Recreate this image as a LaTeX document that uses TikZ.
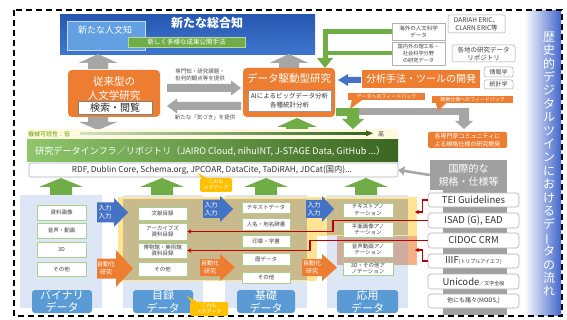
\documentclass[tikz,border=0pt]{standalone}
\usepackage{fontspec}
\usepackage{graphicx}
\setmainfont{Noto Sans CJK JP}
\usetikzlibrary{arrows.meta}
\definecolor{oranC}{RGB}{237,125,49}
\definecolor{topBa}{RGB}{40,88,178}
\definecolor{topBb}{RGB}{62,118,206}
\definecolor{hbB}{RGB}{98,160,226}
\definecolor{grnC}{RGB}{112,173,71}
\definecolor{dkG}{RGB}{56,100,30}
\definecolor{infL}{RGB}{142,198,108}
\definecolor{infD}{RGB}{58,102,32}
\definecolor{grayC}{RGB}{166,166,166}
\definecolor{gryB}{RGB}{160,160,160}
\definecolor{lblB}{RGB}{91,155,213}
\definecolor{colbg}{RGB}{220,230,244}
\definecolor{khaki}{RGB}{200,186,140}
\definecolor{yelS}{RGB}{255,249,222}
\definecolor{yelT}{RGB}{255,217,102}
\definecolor{pinkR}{RGB}{206,172,160}
\definecolor{peachC}{RGB}{244,177,131}
\definecolor{goldC}{RGB}{255,192,0}
\definecolor{redC}{RGB}{192,0,0}
\definecolor{arrB}{RGB}{68,114,196}
\definecolor{banB}{RGB}{66,104,204}
\definecolor{itemG}{RGB}{169,209,142}
\newcommand\fsz[2]{\fontsize{#1}{#2}\selectfont}
\newcommand\mybox[7]{\node[#6, minimum width={(#4)-(#2)}, minimum height={(#5)-(#3)}] (#1) at ({((#2)+(#4))/2},{((#3)+(#5))/2}) {#7};}
\newcommand\harrow[7]{\fill[#7] (#1,{#4-#5/2}) -- (#2,{#4-#5/2}) -- (#2,{#4-#6/2}) -- (#3,#4) -- (#2,{#4+#6/2}) -- (#2,{#4+#5/2}) -- (#1,{#4+#5/2}) -- cycle;}
\newcommand\varrow[7]{\fill[#7] ({#4-#5/2},#1) -- ({#4-#5/2},#2) -- ({#4-#6/2},#2) -- (#4,#3) -- ({#4+#6/2},#2) -- ({#4+#5/2},#2) -- ({#4+#5/2},#1) -- cycle;}
\begin{document}
\begin{tikzpicture}[x=1pt,y=-1pt,
  every node/.style={inner sep=0pt, align=center},
  item/.style={draw=itemG, fill=white, line width=0.6pt, font=\fsz{5.5}{6.6}, text=black!75},
  std/.style={draw=black!30, fill=white, rounded corners=3pt, line width=0.6pt, text=black!80},
  lbl/.style={fill=lblB, rounded corners=3pt, text=white, font=\fsz{11}{12.5}},
  orbox/.style={fill=oranC, rounded corners=4pt, text=white},
  smallbox/.style={draw=black!35, fill=white, rounded corners=2pt, line width=0.5pt, font=\fsz{6}{7.2}, text=black!75},
  redarr/.style={draw=redC, line width=1.1pt, -{Stealth[length=4pt,width=4.5pt]}},
  meta/.style={fill=goldC, rounded corners=1.5pt, text=white, font=\fsz{5}{6}},
]
\useasboundingbox (0,0) rectangle (567,320);
\fill[white] (0,0) rectangle (567,320);
% banner
\shade[left color=white, middle color=banB!55!white, right color=banB] (524,11) rectangle (561,315);
\node[text=white, font=\fsz{12}{13.4}] (ban) at (549,164) {歴\\史\\的\\デ\\ジ\\タ\\ル\\ツ\\イ\\ン\\に\\お\\け\\る\\デ\\\rotatebox[origin=c]{90}{ー}\\タ\\の\\流\\れ};
\draw[line width=1.5pt, dash pattern=on 6pt off 4pt] (14,10) rectangle (562,316);
% top blue
\mybox{tb}{60}{15}{315}{55}{top color=topBa, bottom color=topBb}{}
\node[text=white, font=\fsz{12}{14}\bfseries] (tbt) at (207,23) {新たな総合知};
\mybox{hum}{67}{21}{145}{50}{fill=hbB, draw=white!60!hbB, line width=0.5pt}{}
\node[text=white, font=\fsz{9}{10}] (humt) at (105,30) {新たな人文知};
\mybox{pub}{128}{37}{245}{47}{fill=grnC, draw=grnC!50!white, line width=0.6pt, text=white, font=\fsz{6.5}{7}}{新しく多様な成果公開手法}
\varrow{69}{63}{54}{98}{20}{39}{grayC}
\varrow{68}{63}{54}{289}{20}{39}{grayC}
% traditional
\mybox{trad}{68}{70}{160}{117}{orbox}{}
\node[text=white, font=\fsz{10.5}{14}] (tradt) at (114,89) {従来型の\\人文学研究};
\mybox{kensaku}{78}{101}{152}{114}{fill=white, draw=black!50, line width=0.4pt, font=\fsz{10}{11}, text=black!85}{検索・閲覧}
\harrow{167}{231}{241}{88}{8}{15}{grayC}
\harrow{241}{177}{167}{106}{8}{15}{grayC}
\node[font=\fsz{5.5}{7.5}, text=black!70] (lab1) at (200,75) {専門知・研究課題・\\批判的観点等を提供};
\node[font=\fsz{5.5}{7}, text=black!70] (lab2) at (205,117) {新たな「気づき」を提供};
% data driven
\mybox{ddr}{243}{68}{335}{117}{orbox}{}
\node[text=white, font=\fsz{10.5}{12}] (ddrt) at (289,78) {データ駆動型研究};
\mybox{ai}{248}{90}{331}{111}{fill=white, draw=black!40, line width=0.5pt, font=\fsz{6.5}{8.5}, text=black!80}{AIによるビッグデータ分析\\各種統計分析}
\varrow{140}{127}{118}{297}{22}{40}{grnC}
\varrow{117}{122}{130}{98}{20}{38}{grayC}
% readability strip
\fill[yelS] (27,129) rectangle (398,139);
\node[anchor=west, font=\fsz{6}{6}, text=black!60!green!60!yellow] (low) at (28,134) {機械可読性：低};
\shade[left color=grnC!35!white, right color=dkG] (80,132.2) rectangle (367,134.4);
\fill[dkG] (366,130.3) -- (373,133.3) -- (366,136.3) -- cycle;
\node[font=\fsz{6}{6}, text=black!75] (high) at (381,134) {高};
% infra
\mybox{inf}{27}{140}{398}{162}{left color=infL, right color=infD}{}
\node[anchor=west, text=white] (inft) at (35,151) {\resizebox{350pt}{!}{研究データインフラ／リポジトリ（JAIRO Cloud, nihuINT, J-STAGE Data, GitHub ...）}};
\mybox{rdf}{29}{163}{398}{177}{fill=white, draw=black!30, rounded corners=2pt, line width=0.6pt}{}
\node[text=black!80] (rdft) at (212,170) {\resizebox{280pt}{!}{RDF, Dublin Core, Schema.org, JPCOAR, DataCite, TaDiRAH, JDCat(国内)...}};
% international
\mybox{intl}{430}{160}{507}{190}{fill=gryB, text=white, font=\fsz{10}{12.5}}{国際的な\\規格・仕様等}
\draw[grayC, line width=2.5pt, -{Triangle[length=6pt,width=9pt]}] (intl.west) -- (rdf.east);
\mybox{comm}{428}{132}{507}{148}{orbox, rounded corners=2pt, font=\fsz{6}{7.5}}{各専門家コミュニティに\\よる規格仕様の研究開発}
% feedback paths
\fill[grayC] (355,108) rectangle (469,115);
\varrow{108}{121}{129}{464}{10}{18}{grayC}
\fill[grnC] (336,108) rectangle (359,116);
\varrow{108}{119}{129}{353}{12}{22}{grnC}
\mybox{cb1}{348}{93}{425}{100}{fill=oranC, text=white, font=\fsz{5}{6}}{データへのフィードバック}
\fill[oranC] ([xshift=4pt]cb1.south west) -- (350,109) -- ([xshift=14pt]cb1.south west) -- cycle;
\mybox{cb2}{432}{96}{513}{103}{fill=oranC, text=white, font=\fsz{5}{6}}{規格仕様へのフィードバック}
\fill[oranC] ([xshift=4pt]cb2.south west) -- (438,111) -- ([xshift=14pt]cb2.south west) -- cycle;
% tools
\mybox{tool}{362}{70}{480}{88}{fill=oranC, text=white, font=\fsz{10}{12}}{分析手法・ツールの開発}
\harrow{361}{348}{338}{80}{6}{12}{arrB}
\mybox{info}{484}{67}{513}{77}{smallbox}{情報学}
\mybox{stat}{484}{80}{513}{89}{smallbox}{統計学}
% top right
\mybox{ov}{392}{23}{445}{40}{smallbox, rounded corners=0pt, draw=black!30, font=\fsz{5.5}{7}}{海外の人文科学\\データ}
\mybox{dar}{448}{15}{505}{33}{smallbox, font=\fsz{6.5}{8}}{DARIAH ERIC、\\CLARN ERIC等}
\mybox{dom}{392}{42}{445}{65}{smallbox, rounded corners=0pt, draw=black!30, font=\fsz{5.2}{6.8}}{国内外の理工系・\\社会科学分野\\の研究データ}
\mybox{rep}{452}{45}{515}{62}{smallbox, font=\fsz{6.5}{8}}{各地の研究データ\\リポジトリ}
\coordinate (gv) at (325,31.5);
\draw[grnC, line width=5pt] (ov.west) -- (gv) -- (325,60);
\draw[grnC, line width=4pt] (dom.west) -- (dom.west -| gv);
\fill[grnC] (317,58) -- (333,58) -- (325,68) -- cycle;
% bottom columns
\fill[colbg] (20,195) rectangle (102,308);
\fill[colbg] (123,195) rectangle (203,308);
\fill[colbg] (225,195) rectangle (307,308);
\fill[colbg] (327,195) rectangle (408,308);
\fill[yelT!70!white] (118,197) rectangle (317,281);
\fill[khaki] (123,199.5) rectangle (307,280);
\fill[yelT!70!white] (317,197) rectangle (417,236);
\fill[khaki] (327,199.5) rectangle (408,235);
\fill[peachC] (337,236) rectangle (417,265);
\fill[pinkR] (337,236) rectangle (408,265);
% green up arrows
\varrow{195}{187}{178}{61}{22}{44}{grnC}
\varrow{195}{187}{178}{162}{22}{44}{grnC}
\varrow{195}{187}{178}{266}{22}{44}{grnC}
\varrow{195}{187}{178}{366}{22}{44}{grnC}
% column 1
\mybox{c1a}{37}{205}{86}{220}{item}{資料画像}
\mybox{c1b}{37}{223}{86}{238}{item}{音声・動画}
\mybox{c1c}{37}{242}{86}{257}{item}{3D}
\mybox{c1d}{37}{262}{86}{276}{item}{その他}
\mybox{l1}{32}{290}{92}{313}{lbl}{バイナリ\\データ}
% column 2
\mybox{c2a}{138}{207}{187}{220}{item}{文献目録}
\mybox{arch}{138}{223}{187}{240}{item}{アーカイブズ\\資料目録}
\mybox{mus}{138}{243}{187}{258}{item}{博物館・美術館\\資料目録}
\mybox{c2d}{138}{262}{187}{276}{item}{その他}
\mybox{l2}{133}{290}{193}{313}{lbl}{目録\\データ}
% column 3
\mybox{c3a}{242}{202}{290}{213}{item}{テキストデータ}
\mybox{c3b}{242}{218}{290}{230}{item}{人名・地名辞書}
\mybox{c3c}{242}{235}{290}{247}{item}{印章・字書}
\mybox{c3d}{242}{253}{290}{265}{item}{暦データ}
\mybox{c3e}{242}{272}{290}{283}{item}{その他}
\mybox{l3}{237}{290}{295}{313}{lbl}{基礎\\データ}
% column 4
\mybox{c4a}{343}{203}{393}{217}{item}{テキストアノ\\テーション}
\mybox{c4b}{343}{222}{393}{237}{item}{平面画像アノ\\テーション}
\mybox{c4c}{343}{242}{393}{257}{item}{音声動画アノ\\テーション}
\mybox{c4d}{343}{262}{393}{275}{item}{3D・その他ア\\ノテーション}
\mybox{l4}{337}{290}{398}{313}{lbl}{応用\\データ}
% input arrows
\harrow{97}{114}{128}{212.5}{20}{29}{arrB}
\node[text=white, font=\fsz{6.5}{8}] (in1) at (105,212.5) {入力\\入力};
\harrow{203}{220}{233}{209}{18}{26}{arrB}
\node[text=white, font=\fsz{6.5}{8}] (in2) at (211,209) {入力\\入力};
\harrow{306}{322}{334}{209}{18}{26}{arrB}
\node[text=white, font=\fsz{6.5}{8}] (in3) at (314,209) {入力\\入力};
\harrow{97}{116}{133}{268.5}{20}{37}{oranC}
\node[text=white, font=\fsz{6}{8}] (au1) at (106,268.5) {自動化\\研究};
\harrow{200}{220}{235}{267.5}{17}{27}{oranC}
\node[text=white, font=\fsz{6}{8}] (au2) at (210,267.5) {自動化\\研究};
\harrow{302}{322}{337}{267.5}{17}{27}{oranC}
\node[text=white, font=\fsz{6}{8}] (au3) at (312,267.5) {自動化\\研究};
% metadata callouts
\mybox{meta1}{200}{178}{232}{192}{meta}{これも\\メタデータ}
\fill[goldC] (202,179) -- (198,173) -- (208,179) -- cycle;
\mybox{meta2}{190}{302}{228}{316}{meta}{これも\\メタデータ}
\fill[goldC] (192,303) -- (187,296) -- (199,303) -- cycle;
% standards list
\fill[gryB] (443,190) rectangle (507,315);
\mybox{tei}{428}{193}{519}{207}{std, font=\fsz{9.5}{11}}{TEI Guidelines}
\mybox{isad}{428}{213}{519}{228}{std, font=\fsz{9.5}{11}}{ISAD (G), EAD}
\mybox{cidoc}{428}{233}{519}{248}{std, font=\fsz{9.5}{11}}{CIDOC CRM}
\mybox{iiif}{428}{254}{519}{268}{std, font=\fsz{9.5}{11}}{IIIF{\fsz{5}{6}(トリプルアイエフ)}}
\mybox{uni}{428}{274}{519}{289}{std, font=\fsz{9.5}{11}}{Unicode{\fsz{5}{6}／文字全般}}
\mybox{oth}{428}{294}{519}{308}{std, font=\fsz{6}{7}}{他にも諸々(MODS,)}
% red connectors
\coordinate (r1) at (333,231.5);
\coordinate (r2) at (310,250.5);
\draw[redarr] (isad.west) -| (r1) -- (arch.east);
\draw[redarr] (cidoc.west) -| (r2) -- (mus.east);
\draw[redarr] (tei.west) -- ++(-5,0) |- (415,212);
\draw[redarr] (iiif.west) -- ++(-5,0) |- (415,250);
\end{tikzpicture}
\end{document}
